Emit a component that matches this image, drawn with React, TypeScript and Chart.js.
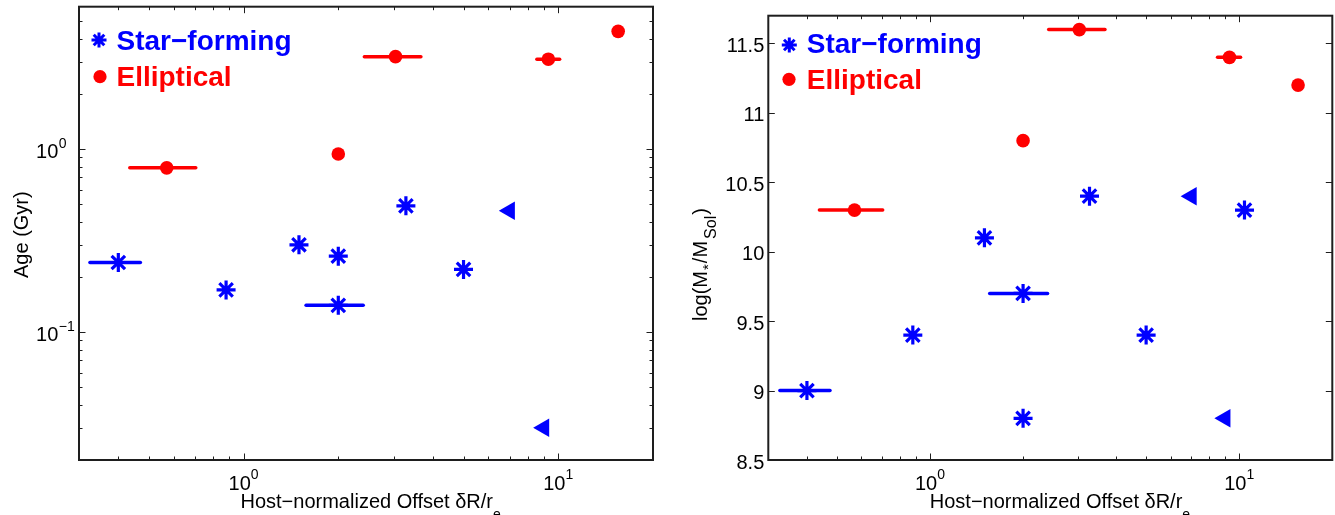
import React, { useEffect, useRef } from 'react';
import { Chart, registerables } from 'chart.js';

Chart.register(...registerables);

const FONT = '"Liberation Sans", Arial, Helvetica, sans-serif';
const BLUE = '#0000ff';
const RED = '#ff0000';
const AXIS = '#1e1e1e';

// ---------- shared x axis (host-normalized offset) ----------
const xMin = 0.3;
const xMax = 20;
const xMajorTicks = [1, 10];
const xMajorExp = ['0', '1'];
const xMinorTicks = [0.3, 0.4, 0.5, 0.6, 0.7, 0.8, 0.9, 2, 3, 4, 5, 6, 7, 8, 9];

// ---------- age panel y axis ----------
const ageMin = 0.02;
const ageMax = 6;
const ageMajorTicks = [0.1, 1];
const ageMajorExp = ['\u22121', '0'];
const ageMinorTicks = [0.03, 0.04, 0.05, 0.06, 0.07, 0.08, 0.09, 0.2, 0.3, 0.4, 0.5, 0.6, 0.7, 0.8, 0.9, 2, 3, 4, 5];

// ---------- mass panel y axis ----------
const massMin = 8.5;
const massMax = 11.7;
const massTicks = [8.5, 9, 9.5, 10, 10.5, 11, 11.5];
const massTickLabels = ['8.5', '9', '9.5', '10', '10.5', '11', '11.5'];

// ---------- age panel data ----------
const sfAgeX = [0.4, 0.88, 1.5, 2.0, 2.0, 3.28, 5.0];
const sfAgeY = [0.24, 0.17, 0.30, 0.26, 0.14, 0.49, 0.22];
const sfAgeErrLo = [0.325, null, null, null, 1.58, null, null];
const sfAgeErrHi = [0.47, null, null, null, 2.4, null, null];
const limAgeX = [7.0, 9.0];
const limAgeY = [0.46, 0.03];
const ellAgeX = [0.57, 2.0, 3.04, 9.3, 15.5];
const ellAgeY = [0.79, 0.94, 3.2, 3.1, 4.4];
const ellAgeErrLo = [0.435, null, 2.42, 8.55, null];
const ellAgeErrHi = [0.705, null, 3.66, 10.1, null];

// ---------- mass panel data ----------
const sfMassX = [0.4, 0.88, 1.5, 2.0, 2.0, 3.28, 5.0, 10.4];
const sfMassY = [9.0, 9.4, 10.1, 9.7, 8.8, 10.4, 9.4, 10.3];
const sfMassErrLo = [0.327, null, null, 1.56, null, null, null, null];
const sfMassErrHi = [0.475, null, null, 2.4, null, null, null, null];
const limMassX = [7.0, 9.0];
const limMassY = [10.4, 8.8];
const ellMassX = [0.57, 2.0, 3.04, 9.3, 15.5];
const ellMassY = [10.3, 10.8, 11.6, 11.4, 11.2];
const ellMassErrLo = [0.439, null, 2.42, 8.51, null];
const ellMassErrHi = [0.703, null, 3.68, 10.1, null];

const legendLabels = ['Star\u2212forming', 'Elliptical'];
const xTitleMain = 'Host\u2212normalized Offset \u03b4R/r';
const xTitleSub = 'e';
const ageTitle = 'Age (Gyr)';

type Part = { t: string; s: number; dy: number; gap?: number };

function drawParts(ctx: CanvasRenderingContext2D, parts: Part[], x: number, y: number) {
  let cx = x;
  ctx.textAlign = 'left';
  ctx.textBaseline = 'alphabetic';
  for (const p of parts) {
    cx += p.gap || 0;
    ctx.font = `${p.s}px ${FONT}`;
    ctx.fillText(p.t, cx, y + p.dy);
    cx += ctx.measureText(p.t).width;
  }
}

function drawAsterisk(ctx: CanvasRenderingContext2D, x: number, y: number, r: number, lw: number, color: string) {
  const d = r * Math.SQRT1_2;
  ctx.save();
  ctx.strokeStyle = color;
  ctx.lineWidth = lw;
  ctx.beginPath();
  ctx.moveTo(x - r, y); ctx.lineTo(x + r, y);
  ctx.moveTo(x, y - r); ctx.lineTo(x, y + r);
  ctx.moveTo(x - d, y - d); ctx.lineTo(x + d, y + d);
  ctx.moveTo(x - d, y + d); ctx.lineTo(x + d, y - d);
  ctx.stroke();
  ctx.restore();
}

function pts(xs: number[], ys: number[]) {
  return xs.map((x, i) => ({ x, y: ys[i] }));
}

function seriesSets(sfX: number[], sfY: number[], limX: number[], limY: number[], ellX: number[], ellY: number[]) {
  return [
    {
      label: legendLabels[0], data: pts(sfX, sfY), pointStyle: 'star', pointRadius: 9.5,
      pointBorderWidth: 3.2, pointBorderColor: BLUE, pointBackgroundColor: BLUE, showLine: false,
    },
    {
      label: 'limit', data: pts(limX, limY), pointStyle: 'triangle', pointRotation: -90, pointRadius: 10.7,
      pointBorderWidth: 0, pointBorderColor: BLUE, pointBackgroundColor: BLUE, showLine: false,
    },
    {
      label: legendLabels[1], data: pts(ellX, ellY), pointStyle: 'circle', pointRadius: 6.8,
      pointBorderWidth: 0, pointBorderColor: RED, pointBackgroundColor: RED, showLine: false,
    },
  ];
}

type ErrBar = { y: number[]; lo: (number | null)[]; hi: (number | null)[]; color: string };

type PanelOpts = {
  errBars: ErrBar[];
  yMajor: number[];
  yMinor: number[];
  drawYLabel: (ctx: CanvasRenderingContext2D, py: number, i: number, left: number) => void;
  yTitle: Part[];
  yTitleX: number;
  yTitleStartY: number;
  legend: { ax: number; ay: number; tx: number; ty1: number; cx: number; cy: number; ty2: number };
};

function framePlugin(o: PanelOpts) {
  return {
    id: 'matlabFrame',
    beforeDatasetsDraw(chart: any) {
      const ctx: CanvasRenderingContext2D = chart.ctx;
      const xs = chart.scales.x;
      const ys = chart.scales.y;
      ctx.save();
      ctx.lineWidth = 3.5;
      ctx.lineCap = 'round';
      for (const eb of o.errBars) {
        ctx.strokeStyle = eb.color;
        eb.y.forEach((yv, i) => {
          const lo = eb.lo[i];
          const hi = eb.hi[i];
          if (lo == null || hi == null) return;
          const py = ys.getPixelForValue(yv);
          ctx.beginPath();
          ctx.moveTo(xs.getPixelForValue(lo), py);
          ctx.lineTo(xs.getPixelForValue(hi), py);
          ctx.stroke();
        });
      }
      ctx.restore();
    },
    afterDraw(chart: any) {
      const ctx: CanvasRenderingContext2D = chart.ctx;
      const ca = chart.chartArea;
      const xs = chart.scales.x;
      const ys = chart.scales.y;
      ctx.save();
      // ticks (inward, on all four sides)
      ctx.strokeStyle = AXIS;
      ctx.lineWidth = 1;
      ctx.beginPath();
      const xTick = (v: number, len: number) => {
        const px = Math.round(xs.getPixelForValue(v)) + 0.5;
        ctx.moveTo(px, ca.bottom); ctx.lineTo(px, ca.bottom - len);
        ctx.moveTo(px, ca.top); ctx.lineTo(px, ca.top + len);
      };
      const yTick = (v: number, len: number) => {
        const py = Math.round(ys.getPixelForValue(v)) + 0.5;
        ctx.moveTo(ca.left, py); ctx.lineTo(ca.left + len, py);
        ctx.moveTo(ca.right, py); ctx.lineTo(ca.right - len, py);
      };
      xMajorTicks.forEach((v) => xTick(v, 6.5));
      xMinorTicks.forEach((v) => xTick(v, 3.5));
      o.yMajor.forEach((v) => yTick(v, 6.5));
      o.yMinor.forEach((v) => yTick(v, 3.5));
      ctx.stroke();
      // box
      ctx.lineWidth = 2;
      ctx.strokeRect(ca.left, ca.top, ca.right - ca.left, ca.bottom - ca.top);

      // x tick labels
      ctx.fillStyle = '#000';
      xMajorTicks.forEach((v, i) => {
        const px = xs.getPixelForValue(v);
        ctx.font = `20px ${FONT}`;
        const w1 = ctx.measureText('10').width;
        ctx.font = `14px ${FONT}`;
        const w2 = ctx.measureText(xMajorExp[i]).width;
        const x0 = px - (w1 + w2) / 2;
        ctx.textAlign = 'left';
        ctx.textBaseline = 'alphabetic';
        ctx.font = `20px ${FONT}`;
        ctx.fillText('10', x0, ca.bottom + 30);
        ctx.font = `14px ${FONT}`;
        ctx.fillText(xMajorExp[i], x0 + w1, ca.bottom + 18.5);
      });
      // y tick labels
      o.yMajor.forEach((v, i) => {
        o.drawYLabel(ctx, ys.getPixelForValue(v), i, ca.left);
      });

      // x title
      const xParts: Part[] = [
        { t: xTitleMain, s: 20, dy: 0 },
        { t: xTitleSub, s: 14, dy: 11 },
      ];
      drawParts(ctx, xParts, ca.left + 161.5, ca.bottom + 48);

      // y title (rotated)
      ctx.save();
      ctx.translate(o.yTitleX, o.yTitleStartY);
      ctx.rotate(-Math.PI / 2);
      drawParts(ctx, o.yTitle, 0, 0);
      ctx.restore();

      // legend
      const L = o.legend;
      drawAsterisk(ctx, L.ax, L.ay, 7.5, 3, BLUE);
      ctx.fillStyle = RED;
      ctx.beginPath();
      ctx.arc(L.cx, L.cy, 6.6, 0, Math.PI * 2);
      ctx.fill();
      ctx.font = `bold 28px ${FONT}`;
      ctx.textAlign = 'left';
      ctx.textBaseline = 'alphabetic';
      ctx.fillStyle = BLUE;
      ctx.fillText(legendLabels[0], L.tx, L.ty1);
      ctx.fillStyle = RED;
      ctx.fillText(legendLabels[1], L.tx, L.ty2);
      ctx.restore();
    },
  };
}

function baseOptions(pad: any, yType: string, yMin: number, yMax: number) {
  return {
    animation: false,
    responsive: false,
    devicePixelRatio: 1,
    layout: { padding: pad, autoPadding: false },
    scales: {
      x: { type: 'logarithmic', min: xMin, max: xMax, display: false },
      y: { type: yType, min: yMin, max: yMax, display: false },
    },
    plugins: { legend: { display: false }, tooltip: { enabled: false }, title: { display: false } },
  };
}

function makeAgeChart(canvas: HTMLCanvasElement) {
  const plugin = framePlugin({
    errBars: [
      { y: sfAgeY, lo: sfAgeErrLo, hi: sfAgeErrHi, color: BLUE },
      { y: ellAgeY, lo: ellAgeErrLo, hi: ellAgeErrHi, color: RED },
    ],
    yMajor: ageMajorTicks,
    yMinor: ageMinorTicks,
    drawYLabel: (ctx, py, i, left) => {
      ctx.fillStyle = '#000';
      ctx.textBaseline = 'alphabetic';
      ctx.font = `20px ${FONT}`;
      ctx.textAlign = 'right';
      ctx.fillText('10', left - 20.7, py + 9.3);
      ctx.font = `14px ${FONT}`;
      ctx.textAlign = 'left';
      ctx.fillText(ageMajorExp[i], left - 20.2, py - 1.5);
    },
    yTitle: [{ t: ageTitle, s: 20, dy: 0 }],
    yTitleX: 27.5,
    yTitleStartY: 278,
    legend: { ax: 99, ay: 40, tx: 116.5, ty1: 50, cx: 100, cy: 76.7, ty2: 86 },
  });
  return new Chart(canvas, {
    type: 'scatter',
    data: { datasets: seriesSets(sfAgeX, sfAgeY, limAgeX, limAgeY, ellAgeX, ellAgeY) as any },
    options: baseOptions({ left: 79, top: 6.7, right: 12, bottom: 55 }, 'logarithmic', ageMin, ageMax) as any,
    plugins: [plugin as any],
  });
}

function makeMassChart(canvas: HTMLCanvasElement) {
  const plugin = framePlugin({
    errBars: [
      { y: sfMassY, lo: sfMassErrLo, hi: sfMassErrHi, color: BLUE },
      { y: ellMassY, lo: ellMassErrLo, hi: ellMassErrHi, color: RED },
    ],
    yMajor: massTicks,
    yMinor: [],
    drawYLabel: (ctx, py, i, left) => {
      ctx.fillStyle = '#000';
      ctx.textBaseline = 'alphabetic';
      ctx.font = `20px ${FONT}`;
      ctx.textAlign = 'right';
      ctx.fillText(massTickLabels[i], left - 4, py + 8.5);
    },
    yTitle: [
      { t: 'log(M', s: 20, dy: 0 },
      { t: '*', s: 15, dy: 6, gap: 1 },
      { t: '/M', s: 20, dy: 0, gap: 1 },
      { t: 'Sol', s: 16, dy: 9, gap: 2 },
      { t: ')', s: 20, dy: 0, gap: 1 },
    ],
    yTitleX: 42,
    yTitleStartY: 321,
    legend: { ax: 124.3, ay: 45, tx: 141.8, ty1: 53.3, cx: 124, cy: 79.3, ty2: 89.3 },
  });
  return new Chart(canvas, {
    type: 'scatter',
    data: { datasets: seriesSets(sfMassX, sfMassY, limMassX, limMassY, ellMassX, ellMassY) as any },
    options: baseOptions({ left: 103.3, top: 15.7, right: 2.7, bottom: 55 }, 'linear', massMin, massMax) as any,
    plugins: [plugin as any],
  });
}

export default function App() {
  const leftRef = useRef<HTMLCanvasElement>(null);
  const rightRef = useRef<HTMLCanvasElement>(null);
  useEffect(() => {
    const c1 = makeAgeChart(leftRef.current as HTMLCanvasElement);
    const c2 = makeMassChart(rightRef.current as HTMLCanvasElement);
    return () => {
      c1.destroy();
      c2.destroy();
    };
  }, []);
  return (
    <div style={{ position: 'fixed', left: 0, top: 0, width: 1335, height: 515, background: '#fff', overflow: 'hidden' }}>
      <canvas
        ref={leftRef}
        width={665}
        height={515}
        style={{ position: 'absolute', left: 0, top: 0, width: 665, height: 515 }}
      />
      <canvas
        ref={rightRef}
        width={670}
        height={515}
        style={{ position: 'absolute', left: 665, top: 0, width: 670, height: 515 }}
      />
    </div>
  );
}
